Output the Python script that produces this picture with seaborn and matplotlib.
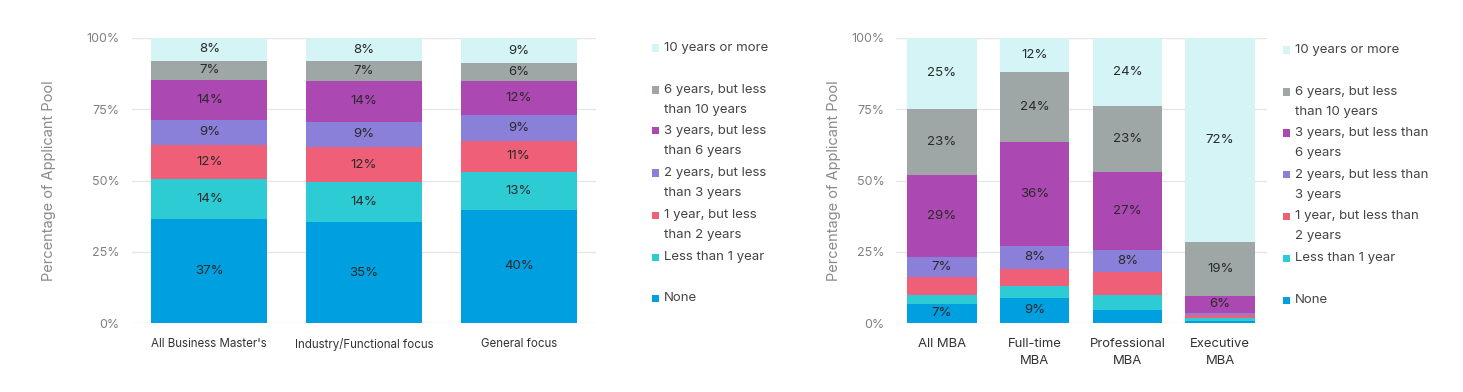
import numpy as np
import pandas as pd
import seaborn as sns
import matplotlib.pyplot as plt
from matplotlib.patches import Rectangle

# experience levels, bottom -> top
levels = ["None", "Less than 1 year", "1 year, but less than 2 years",
          "2 years, but less than 3 years", "3 years, but less than 6 years",
          "6 years, but less than 10 years", "10 years or more"]
colors = ["#00A0E0", "#2DCBD3", "#EF5F77", "#8A80D9", "#AB48B1", "#9EA7A6", "#D4F4F6"]

# legend text as wrapped in each panel (top -> bottom)
legend_left = ["10 years or more", "6 years, but less\nthan 10 years", "3 years, but less\nthan 6 years",
               "2 years, but less\nthan 3 years", "1 year, but less\nthan 2 years", "Less than 1 year", "None"]
legend_right = ["10 years or more", "6 years, but less\nthan 10 years", "3 years, but less than\n6 years",
                "2 years, but less than\n3 years", "1 year, but less than\n2 years", "Less than 1 year", "None"]

# left panel: business master's
masters_cats = ["All Business Master's", "Industry/Functional focus", "General focus"]
masters_none = [36.6, 35.3, 39.8]
masters_lt1 = [14.0, 14.2, 13.2]
masters_1to2 = [11.8, 12.1, 11.0]
masters_2to3 = [9.0, 9.1, 9.0]
masters_3to6 = [13.8, 14.1, 12.0]
masters_6to10 = [6.9, 7.0, 6.1]
masters_10plus = [7.9, 8.2, 8.9]

# right panel: MBA
mba_cats = ["All MBA", "Full-time\nMBA", "Professional\nMBA", "Executive\nMBA"]
mba_none = [6.8, 8.8, 4.7, 0.8]
mba_lt1 = [3.2, 4.1, 5.0, 0.8]
mba_1to2 = [6.0, 6.1, 8.1, 1.2]
mba_2to3 = [7.0, 8.1, 7.9, 0.7]
mba_3to6 = [29.0, 36.4, 27.3, 6.1]
mba_6to10 = [23.1, 24.4, 23.1, 18.8]
mba_10plus = [24.9, 12.1, 23.9, 71.6]

sns.set_theme(style="white")
plt.rcParams["font.family"] = ["Inter", "DejaVu Sans"]

W, H = 1463, 392
fig = plt.figure(figsize=(W / 100, H / 100), dpi=100)


def stacked(ax, cats, series, hide=(), min_label=0, xsize=9.5):
    df = pd.DataFrame(np.array(series).T, index=cats, columns=levels)
    cum = df.cumsum(axis=1)
    # draw tallest first so lower layers sit on top
    for i in range(len(levels) - 1, -1, -1):
        sns.barplot(x=cats, y=cum[levels[i]].values, order=cats, color=colors[i],
                    saturation=1, width=0.75, linewidth=0, ax=ax)
    for j, c in enumerate(cats):
        for i, lv in enumerate(levels):
            v = df.loc[c, lv]
            if lv in hide or v < min_label:
                continue
            mid = cum.loc[c, lv] - v / 2
            ax.text(j, mid, f"{v:.0f}%", ha="center", va="center", fontsize=9.5, color="#2a2a2a")
    ax.set_ylim(0, 100)
    ax.set_xlim(-0.5, len(cats) - 0.5)
    ax.set_yticks([0, 25, 50, 75, 100])
    ax.set_yticklabels(["0%", "25%", "50%", "75%", "100%"])
    ax.yaxis.grid(True, color="#e6e6e6", lw=1)
    ax.set_axisbelow(True)
    sns.despine(ax=ax, left=True, bottom=True)
    ax.tick_params(axis="y", length=0, pad=9, labelsize=9, labelcolor="#808080")
    ax.tick_params(axis="x", length=0, pad=11, labelsize=xsize, labelcolor="#333333")
    ax.set_ylabel("Percentage of Applicant Pool", fontsize=10.5, color="#8a8a8a")
    ax.set_xlabel("")


def legend(labels, x, ys):
    for i, lab in enumerate(labels):
        col = colors[len(levels) - 1 - i]
        y = ys[i]
        fig.add_artist(Rectangle((x / W, 1 - (y + 3.5) / H), 7 / W, 7 / H,
                                 transform=fig.transFigure, color=col, lw=0))
        for k, line in enumerate(lab.split("\n")):
            fig.text((x + 12) / W, 1 - (y + 20 * k) / H, line, ha="left", va="center",
                     fontsize=9.5, color="#444444")


ax1 = fig.add_axes([132 / W, 69 / H, 464 / W, 285 / H])
stacked(ax1, masters_cats, [masters_none, masters_lt1, masters_1to2, masters_2to3,
                            masters_3to6, masters_6to10, masters_10plus], xsize=8.3)
ax1.yaxis.set_label_coords(-0.164, 0.5)

ax2 = fig.add_axes([895.5 / W, 69 / H, 371 / W, 285 / H])
stacked(ax2, mba_cats, [mba_none, mba_lt1, mba_1to2, mba_2to3, mba_3to6, mba_6to10, mba_10plus],
        hide=("Less than 1 year", "1 year, but less than 2 years"), min_label=5.5, xsize=9.4)
ax2.yaxis.set_label_coords(-0.147, 0.5)
ax2.tick_params(axis="y", pad=8)
for t in ax2.get_xticklabels():
    t.set_linespacing(1.5)

legend(legend_left, 652, [48, 90, 131, 173, 215, 257, 298])
legend(legend_right, 1283, [50, 92, 133, 175, 216, 258, 300])

fig.savefig("out.png", dpi=100, facecolor="white")
